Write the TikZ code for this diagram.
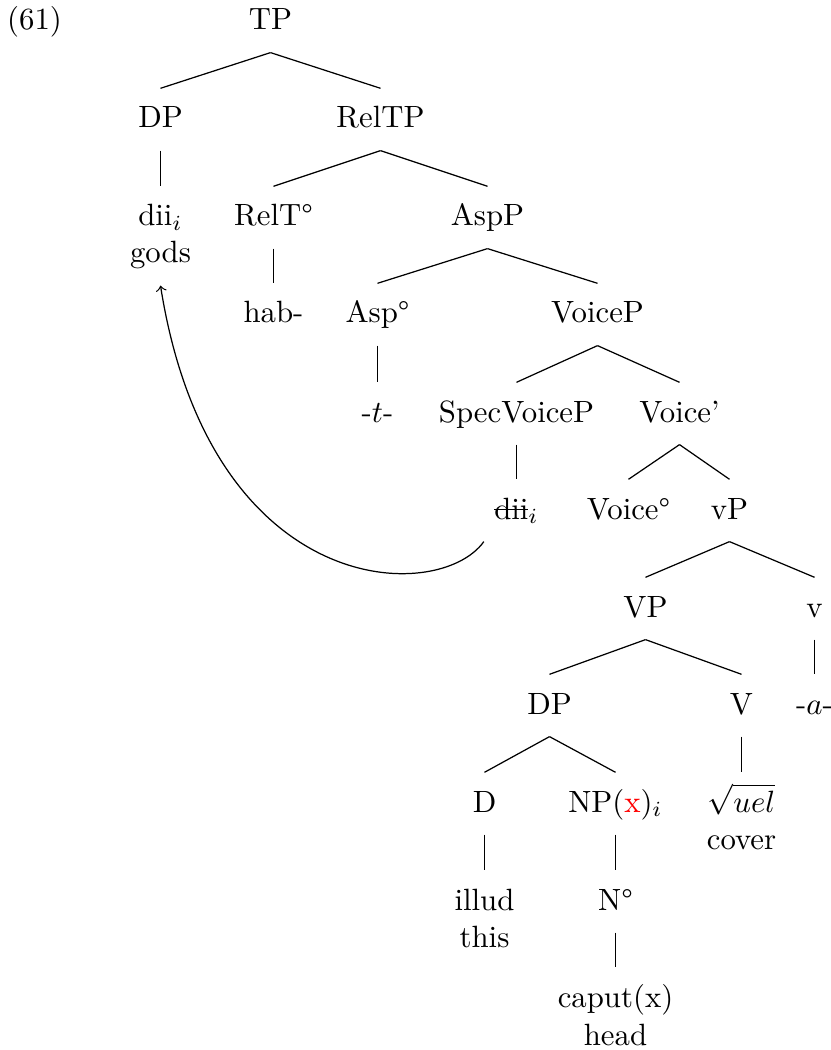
\documentclass[tikz,border=0pt]{standalone}
\usepackage{xcolor}
\newcommand\struckword[1]{\setbox0\hbox{#1}\rlap{\rule[2.8pt]{\wd0}{0.4pt}}\box0}
\begin{document}
\begin{tikzpicture}[x=0.325pt, y=-0.325pt,
  nd/.style={inner sep=0pt, anchor=base, text height=12.7pt, text depth=7.15pt},
  br/.style={line width=0.4pt}]
\useasboundingbox (0,0) rectangle (830,1050);

\begin{scope}[xshift=0.1625pt]
% example number
\node[nd] (ex) at (34,30) {(61)};

% nodes, placed by baseline
\node[nd] (TP) at (270,30) {TP};
\node[nd] (DPa) at (160,128) {DP};
\node[nd] (RelTP) at (380,128) {RelTP};
\node[nd] (diia) at (160,226) {dii$_i$};
\node[nd] (gods) at (160,263) {gods};
\node[nd] (RelT) at (273,226) {RelT\textdegree};
\node[nd] (AspP) at (487,226) {AspP};
\node[nd] (hab) at (273,323) {hab-};
\node[nd] (Asp) at (377,323) {Asp\textdegree};
\node[nd] (VoiceP) at (597,323) {VoiceP};
\node[nd] (tmorph) at (377,422) {-$t$-};
\node[nd] (Spec) at (516,422) {SpecVoiceP};
\node[nd] (Voicebar) at (679,422) {Voice'};
\node[nd] (diib) at (516,519) {\struckword{dii}$_i$};
\node[nd] (Voicezero) at (628,519) {Voice\textdegree};
\node[nd] (vP) at (729,519) {vP};
\node[nd] (VP) at (645,617) {VP};
\node[nd] (vhead) at (814,617) {v};
\node[nd] (DPb) at (549,714) {DP};
\node[nd] (V) at (741,714) {V};
\node[nd] (amorph) at (814,714) {-$a$-};
\node[nd] (D) at (484,812) {D};
\node[nd] (NP) at (615,812) {NP(\textcolor{red}{x})$_i$};
\node[nd] (root) at (741,812) {$\sqrt{uel}$};
\node[nd] (cover) at (741,849) {cover};
\node[nd] (illud) at (484,910) {illud};
\node[nd] (this) at (484,947) {this};
\node[nd] (N) at (615,910) {N\textdegree};
\node[nd] (caput) at (615,1007) {caput(x)};
\node[nd] (head) at (615,1045) {head};

% branches
\foreach \p/\c in {TP/DPa, TP/RelTP, DPa/diia, RelTP/RelT, RelTP/AspP,
  RelT/hab, AspP/Asp, AspP/VoiceP, Asp/tmorph, VoiceP/Spec, VoiceP/Voicebar,
  Spec/diib, Voicebar/Voicezero, Voicebar/vP, vP/VP, vP/vhead, VP/DPb, VP/V,
  vhead/amorph, DPb/D, DPb/NP, V/root, D/illud, NP/N, N/caput}
  \draw[br] (\p.south) -- (\c.north);

% movement of the subject
\draw[br, ->] ([xshift=-3.2pt]diib.south west)
  .. controls +(-45,63) and +(50,315) .. (gods.south);
\end{scope}
\end{tikzpicture}
\end{document}
